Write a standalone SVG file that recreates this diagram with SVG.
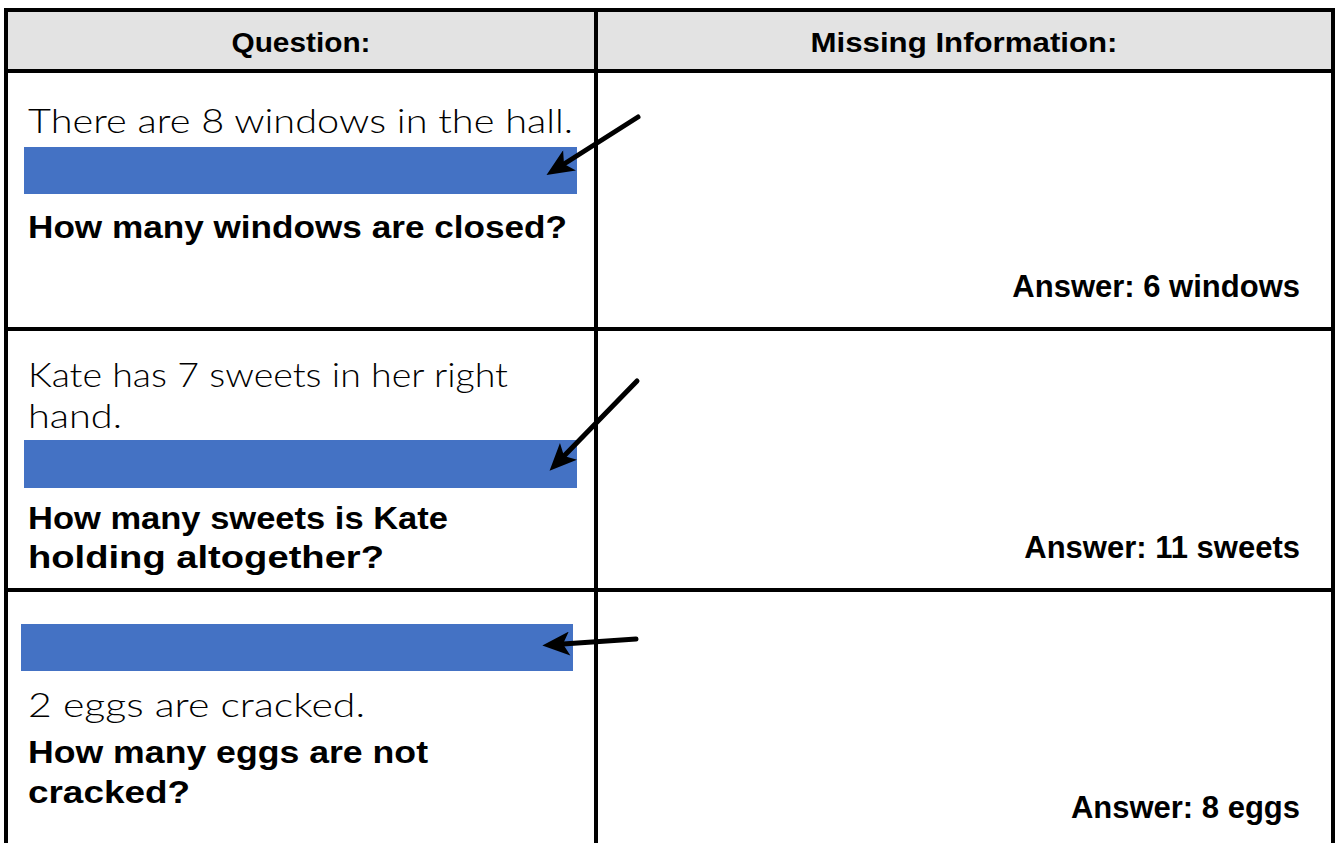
<svg xmlns="http://www.w3.org/2000/svg" width="1336" height="843" viewBox="0 0 1336 843">
<style>
.grid{stroke:#000;stroke-width:4;fill:none}
.reg{font-family:Lato,"DejaVu Sans",sans-serif;font-weight:300;font-size:34px;fill:#000}
.bold{font-family:"Liberation Sans",Arial,sans-serif;font-weight:bold;font-size:31px;fill:#000}
.ans{font-family:"Liberation Sans",Arial,sans-serif;font-weight:bold;font-size:31px;fill:#000;text-anchor:end}
.hdr{font-family:"Liberation Sans",Arial,sans-serif;font-weight:bold;font-size:27px;fill:#000;text-anchor:middle}
.bar{fill:#4472C4}
.arr{stroke:#000;stroke-width:5;stroke-linecap:round;fill:none;marker-end:url(#ah)}
</style>
<defs>
<marker id="ah" markerUnits="userSpaceOnUse" markerWidth="30" markerHeight="24" viewBox="0 0 26 22" refX="6" refY="11" orient="auto">
<path d="M0,0 L25,11 L0,22 L6,11 z" fill="#000"/>
</marker>
</defs>
<rect x="0" y="0" width="1336" height="843" fill="#fff"/>
<g id="header">
<rect x="6" y="10" width="1327" height="61" fill="#E3E3E3"/>
<text class="hdr" x="301" y="52" textLength="139" lengthAdjust="spacingAndGlyphs">Question:</text>
<text class="hdr" x="964" y="52" textLength="307" lengthAdjust="spacingAndGlyphs">Missing Information:</text>
</g>
<g id="table-lines">
<path class="grid" d="M6,10 H1333 M6,71 H1333 M6,329 H1333 M6,590 H1333 M6,8 V843 M1333,8 V843 M596,10 V843"/>
</g>
<g id="row1">
<text class="reg" x="28" y="133" textLength="545" lengthAdjust="spacingAndGlyphs">There are 8 windows in the hall.</text>
<rect class="bar" x="24" y="147" width="553" height="47"/>
<text class="bold" x="28" y="238" textLength="539" lengthAdjust="spacingAndGlyphs">How many windows are closed?</text>
<text class="ans" x="1300" y="297">Answer: 6 windows</text>
</g>
<g id="row2">
<text class="reg" x="28" y="387" textLength="480" lengthAdjust="spacingAndGlyphs">Kate has 7 sweets in her right</text>
<text class="reg" x="28" y="428" textLength="94" lengthAdjust="spacingAndGlyphs">hand.</text>
<rect class="bar" x="24" y="440" width="553" height="48"/>
<text class="bold" x="28" y="529" textLength="420" lengthAdjust="spacingAndGlyphs">How many sweets is Kate</text>
<text class="bold" x="28" y="568" textLength="356" lengthAdjust="spacingAndGlyphs">holding altogether?</text>
<text class="ans" x="1300" y="558">Answer: 11 sweets</text>
</g>
<g id="row3">
<rect class="bar" x="21" y="624" width="552" height="47"/>
<text class="reg" x="28" y="717" textLength="337" lengthAdjust="spacingAndGlyphs">2 eggs are cracked.</text>
<text class="bold" x="28" y="763" textLength="400" lengthAdjust="spacingAndGlyphs">How many eggs are not</text>
<text class="bold" x="28" y="803" textLength="162" lengthAdjust="spacingAndGlyphs">cracked?</text>
<text class="ans" x="1300" y="818">Answer: 8 eggs</text>
</g>
<g id="connectors">
<line class="arr" x1="638" y1="117" x2="564" y2="164"/>
<line class="arr" x1="637" y1="381" x2="564" y2="456"/>
<line class="arr" x1="636" y1="639" x2="563" y2="644"/>
</g>
</svg>
